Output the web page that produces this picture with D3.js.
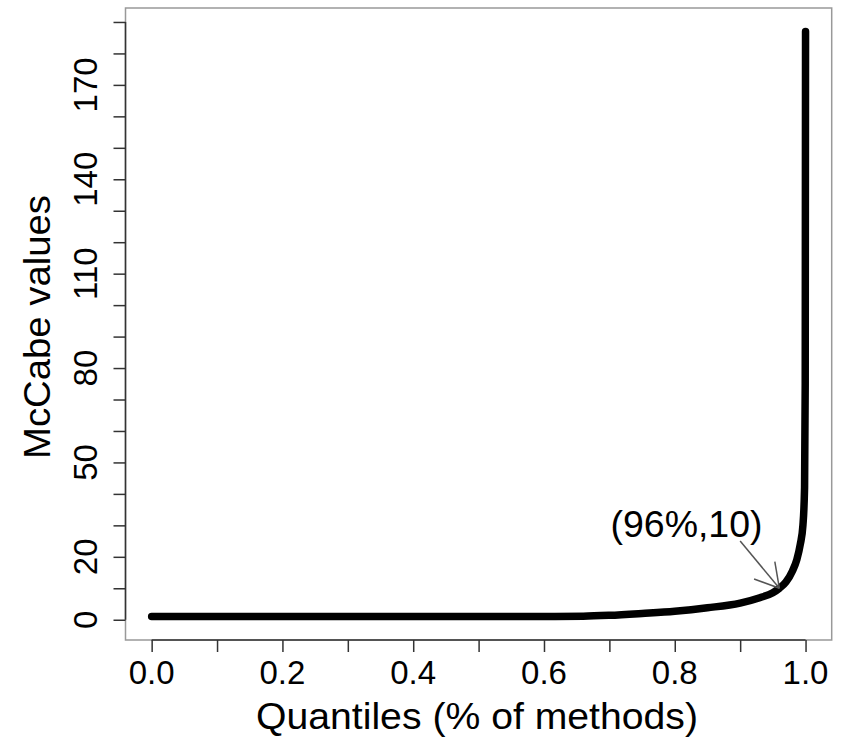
<!DOCTYPE html>
<html lang="en">
<head>
    <meta charset="UTF-8">
    <title>McCabe values by quantile</title>
    <script src="https://d3js.org/d3.v7.min.js"></script>
    <style>
        body { margin: 0; background: #fff; }
        text { font-family: "Liberation Sans", Arial, sans-serif; fill: #000; }
        .tick-label { font-size: 33px; }
        .axis-title { font-size: 37px; }
        .note { font-size: 36px; }
    </style>
</head>
<body>
    <div id="chart"></div>
    <script>
        // Quantile curve (fraction of methods, McCabe value)
        const quantiles = [0, 0.60, 0.66, 0.70, 0.75, 0.80, 0.85, 0.90, 0.93, 0.95, 0.96, 0.97, 0.98, 0.9865, 0.992, 0.996, 0.9985, 0.9995, 1.0];
        const mccabe    = [1, 1, 1.1, 1.4, 2.0, 2.7, 3.8, 5.3, 7.0, 8.6, 10, 12, 15.5, 19, 24, 30, 42, 75, 187];

        // Axis ticks
        const xTicks = [0, 0.1, 0.2, 0.3, 0.4, 0.5, 0.6, 0.7, 0.8, 0.9, 1.0];
        const xLabels = [0, 0.2, 0.4, 0.6, 0.8, 1.0];
        const yTicks = d3.range(0, 200, 10);
        const yLabels = [0, 20, 50, 80, 110, 140, 170];

        // Annotation: label, where the label sits, where the arrow starts and points
        const noteText = "(96%,10)";
        const notePos = [0.818, 30];
        const arrowFrom = [0.90, 25];
        const arrowTo = [0.96, 10];

        const width = 843, height = 741;
        const box = { left: 125.5, right: 831.7, top: 8, bottom: 640 };

        const svg = d3.select("#chart").append("svg")
            .attr("width", width)
            .attr("height", height);

        // R style: 4% padding around the data range
        const xMin = d3.min(quantiles), xMax = d3.max(quantiles);
        const yMin = d3.min(mccabe), yMax = d3.max(mccabe);
        const xPad = (xMax - xMin) * 0.04, yPad = (yMax - yMin) * 0.04;

        const x = d3.scaleLinear()
            .domain([xMin - xPad, xMax + xPad])
            .range([box.left, box.right]);

        const y = d3.scaleLinear()
            .domain([yMin - yPad, yMax + yPad])
            .range([box.bottom, box.top]);

        // plot box
        svg.append("rect")
            .attr("x", box.left)
            .attr("y", box.top)
            .attr("width", box.right - box.left)
            .attr("height", box.bottom - box.top)
            .attr("fill", "none")
            .attr("stroke", "#999")
            .attr("stroke-width", 1.5);

        // x axis
        const xAxis = svg.append("g")
            .attr("transform", `translate(0,${box.bottom})`)
            .call(d3.axisBottom(x).tickValues(xTicks).tickSize(12).tickFormat(""));
        xAxis.select(".domain").remove();
        xAxis.selectAll("line").attr("stroke", "#333").attr("stroke-width", 1.5);
        svg.append("line")
            .attr("x1", x(xTicks[0])).attr("x2", x(xTicks[xTicks.length - 1]))
            .attr("y1", box.bottom).attr("y2", box.bottom)
            .attr("stroke", "#333").attr("stroke-width", 1.5);

        svg.selectAll(".x-label")
            .data(xLabels)
            .enter().append("text")
            .attr("class", "tick-label x-label")
            .attr("x", d => x(d))
            .attr("y", 684)
            .attr("text-anchor", "middle")
            .text(d => d3.format(".1f")(d));

        // y axis
        const yAxis = svg.append("g")
            .attr("transform", `translate(${box.left},0)`)
            .call(d3.axisLeft(y).tickValues(yTicks).tickSize(12).tickFormat(""));
        yAxis.select(".domain").remove();
        yAxis.selectAll("line").attr("stroke", "#333").attr("stroke-width", 1.5);
        svg.append("line")
            .attr("x1", box.left).attr("x2", box.left)
            .attr("y1", y(yTicks[0])).attr("y2", y(yTicks[yTicks.length - 1]))
            .attr("stroke", "#333").attr("stroke-width", 1.5);

        svg.selectAll(".y-label")
            .data(yLabels)
            .enter().append("text")
            .attr("class", "tick-label y-label")
            .attr("transform", d => `translate(97,${y(d)}) rotate(-90)`)
            .attr("text-anchor", "middle")
            .text(d => d);

        // axis titles (the original is a bit wider than the font's natural width)
        svg.append("text")
            .attr("class", "axis-title")
            .attr("x", 477)
            .attr("y", 729)
            .attr("text-anchor", "middle")
            .attr("textLength", 442)
            .attr("lengthAdjust", "spacingAndGlyphs")
            .text("Quantiles (% of methods)");

        svg.append("text")
            .attr("class", "axis-title")
            .attr("transform", `translate(50,327) rotate(-90)`)
            .attr("text-anchor", "middle")
            .attr("textLength", 264)
            .attr("lengthAdjust", "spacingAndGlyphs")
            .text("McCabe values");

        // the quantile curve
        const points = quantiles.map((q, i) => [q, mccabe[i]]);
        const line = d3.line()
            .x(d => x(d[0]))
            .y(d => y(d[1]))
            .curve(d3.curveMonotoneX);

        svg.append("path")
            .datum(points)
            .attr("d", line)
            .attr("fill", "none")
            .attr("stroke", "#000")
            .attr("stroke-width", 7.5)
            .attr("stroke-linecap", "round")
            .attr("stroke-linejoin", "round");

        // annotation arrow
        const x0 = x(arrowFrom[0]), y0 = y(arrowFrom[1]);
        const x1 = x(arrowTo[0]), y1 = y(arrowTo[1]);
        const ang = Math.atan2(y1 - y0, x1 - x0);
        const headLen = 27, headAng = Math.PI / 6;
        const arrowColor = "#555";

        svg.append("line")
            .attr("x1", x0).attr("y1", y0)
            .attr("x2", x1).attr("y2", y1)
            .attr("stroke", arrowColor).attr("stroke-width", 1.5);

        [ang - headAng, ang + headAng].forEach(a => {
            svg.append("line")
                .attr("x1", x1).attr("y1", y1)
                .attr("x2", x1 - headLen * Math.cos(a))
                .attr("y2", y1 - headLen * Math.sin(a))
                .attr("stroke", arrowColor).attr("stroke-width", 1.5);
        });

        svg.append("text")
            .attr("class", "note")
            .attr("x", 686.5)
            .attr("y", y(notePos[1]) + 12)
            .attr("text-anchor", "middle")
            .attr("textLength", 152)
            .attr("lengthAdjust", "spacingAndGlyphs")
            .text(noteText);
    </script>
</body>
</html>
